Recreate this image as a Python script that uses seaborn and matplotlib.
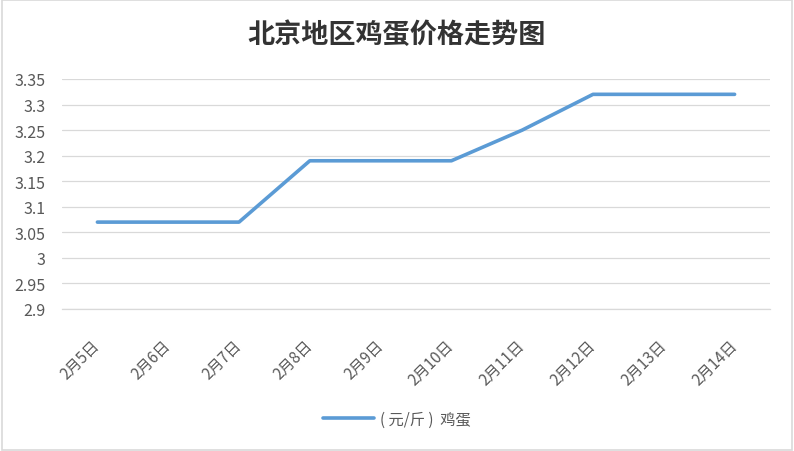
import numpy as np
import pandas as pd
import matplotlib
matplotlib.use('Agg')
import matplotlib.pyplot as plt
import seaborn as sns

sns.set_style('white')
plt.rcParams['font.family'] = ['Noto Sans CJK SC', 'DejaVu Sans']

# egg prices, Beijing
dates = ['2月5日', '2月6日', '2月7日', '2月8日', '2月9日',
         '2月10日', '2月11日', '2月12日', '2月13日', '2月14日']
prices = [3.07, 3.07, 3.07, 3.19, 3.19, 3.19, 3.25, 3.32, 3.32, 3.32]
yticks = [2.9, 2.95, 3, 3.05, 3.1, 3.15, 3.2, 3.25, 3.3, 3.35]
ytick_labels = ['2.9', '2.95', '3', '3.05', '3.1', '3.15', '3.2', '3.25', '3.3', '3.35']

df = pd.DataFrame({'pos': np.arange(len(dates)), 'price': prices})

fig = plt.figure(figsize=(7.94, 4.52), dpi=100)
ax = fig.add_axes([62/794, 1 - 310/452, (770 - 62)/794, (310 - 80)/452])

sns.lineplot(data=df, x='pos', y='price', ax=ax, color='#5B9BD5', linewidth=2.6,
             label='( 元/斤 )  鸡蛋')

ax.set_xlim(-0.5, len(dates) - 0.5)
ax.set_ylim(2.9, 3.35)
ax.set_yticks(yticks)
ax.set_yticklabels(ytick_labels)
ax.yaxis.grid(True, color='#D9D9D9', linewidth=0.9)
ax.xaxis.grid(False)
for s in ['top', 'right', 'left']:
    ax.spines[s].set_visible(False)
ax.spines['bottom'].set_color('#D9D9D9')
ax.spines['bottom'].set_linewidth(0.9)

ax.set_xticks(np.arange(len(dates)))
ax.set_xticklabels(dates, rotation=45, ha='right', va='center', rotation_mode='anchor')
ax.set_xticks(np.arange(-0.5, len(dates)), minor=True)
ax.tick_params(axis='x', which='major', length=0, pad=24, labelsize=11, labelcolor='#595959')
ax.tick_params(axis='x', which='minor', length=5, color='#D9D9D9', width=0.9, direction='out')
ax.tick_params(axis='y', length=0, pad=12, labelsize=11.5, labelcolor='#595959')
ax.set_xlabel('')
ax.set_ylabel('')

fig.text(0.5, 1 - 35/452, '北京地区鸡蛋价格走势图', ha='center', va='center',
         fontsize=19.5, color='#333333', fontweight='bold')

leg = ax.legend(loc='center', bbox_to_anchor=(0.5, 1 - 420/452), bbox_transform=fig.transFigure,
                frameon=False, fontsize=11, handlelength=3.3, handletextpad=0.4)
for t in leg.get_texts():
    t.set_color('#595959')

# outer frame
fig.patches.append(plt.Rectangle((0.002, 0.003), 0.996, 0.994, transform=fig.transFigure,
                                 fill=False, edgecolor='#D9D9D9', linewidth=1.2))

fig.savefig('out.png', dpi=100)
